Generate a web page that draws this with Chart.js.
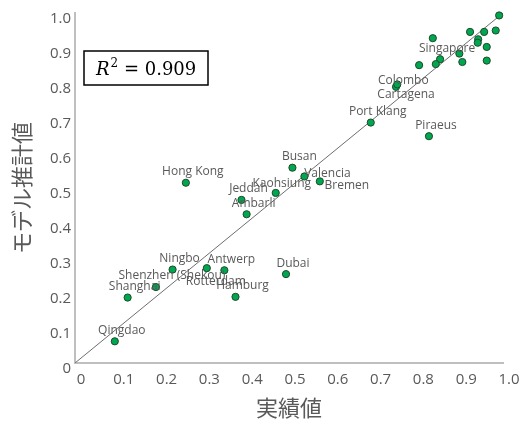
<!DOCTYPE html>
<html lang="ja">
<head>
    <meta charset="UTF-8">
    <title>実績値とモデル推計値</title>
    <script src="https://cdn.jsdelivr.net/npm/chart.js"></script>
    <style>
        html, body { margin: 0; padding: 0; background: #fff; }
        #wrap { width: 531px; height: 423px; }
    </style>
</head>
<body>
    <div id="wrap"><canvas id="fitchart"></canvas></div>
    <script>
        // port names ('' = unlabeled point)
        const ports = [
            'Qingdao', 'Shanghai', 'Shenzhen (Shekou)', 'Ningbo', 'Rotterdam', 'Antwerp', 'Hamburg',
            'Dubai', 'Ambarli', 'Jeddah', 'Kaohsiung', 'Hong Kong', 'Busan', 'Valencia', 'Bremen',
            'Port Klang', 'Piraeus', 'Cartagena', 'Colombo', 'Singapore',
            '', '', '', '', '', '', '', '', '', '', '', '', ''
        ];
        // actual values (x)
        const actual = [
            0.093, 0.123, 0.189, 0.228, 0.308, 0.349, 0.375,
            0.493, 0.401, 0.389, 0.469, 0.259, 0.508, 0.536, 0.572,
            0.691, 0.827, 0.750, 0.753, 0.853,
            0.991, 0.923, 0.956, 0.983, 0.836, 0.942, 0.941, 0.962, 0.898, 0.843, 0.804, 0.905, 0.962
        ];
        // model estimates (y)
        const estimated = [
            0.062, 0.187, 0.217, 0.267, 0.271, 0.265, 0.189,
            0.254, 0.425, 0.466, 0.486, 0.515, 0.558, 0.533, 0.519,
            0.687, 0.648, 0.789, 0.796, 0.868,
            0.993, 0.946, 0.946, 0.950, 0.928, 0.925, 0.915, 0.903, 0.884, 0.854, 0.851, 0.860, 0.864
        ];
        const diagonal = [[0, 0], [1, 1]];
        const rSquared = 0.909;

        const grey = '#595959';

        // where each label sits relative to its point (text centre)
        const labelShift = {
            'Rotterdam': [9, 13],
            'Valencia': [23, -3],
            'Bremen': [27, 4],
            'Kaohsiung': [6, -9],
            'Colombo': [6, -4],
            'Cartagena': [10, 8],
            'Shenzhen (Shekou)': [16, -11]
        };

        const pointLabels = {
            id: 'pointLabels',
            afterDatasetsDraw(chart) {
                const ctx = chart.ctx;
                const meta = chart.getDatasetMeta(0);
                ctx.save();
                ctx.font = '12px "Open Sans"';
                ctx.fillStyle = grey;
                ctx.textAlign = 'center';
                ctx.textBaseline = 'middle';
                meta.data.forEach((pt, i) => {
                    const name = ports[i];
                    if (!name) return;
                    const s = labelShift[name] || [7, -11];
                    ctx.fillText(name, pt.x + s[0], pt.y + s[1]);
                });
                ctx.restore();
            }
        };

        // R^2 box in the upper left
        const r2Box = {
            id: 'r2Box',
            afterDraw(chart) {
                const ctx = chart.ctx;
                const a = chart.chartArea;
                const x = a.left + 9, y = a.top + 38, w = 124, h = 34;
                ctx.save();
                ctx.fillStyle = '#fff';
                ctx.fillRect(x, y, w, h);
                ctx.strokeStyle = '#000';
                ctx.lineWidth = 1.5;
                ctx.strokeRect(x, y, w, h);
                ctx.fillStyle = '#000';
                ctx.textBaseline = 'alphabetic';
                let tx = x + 12;
                const by = y + 24;
                ctx.font = 'italic 18px "DejaVu Serif"';
                ctx.fillText('R', tx, by);
                tx += ctx.measureText('R').width + 1;
                ctx.font = '12px "DejaVu Serif"';
                ctx.fillText('2', tx, by - 8);
                tx += ctx.measureText('2').width;
                ctx.font = '18px "DejaVu Serif"';
                ctx.fillText(' = ' + rSquared.toFixed(3), tx, by);
                ctx.restore();
            }
        };

        const tickFmt = v => (v === 0 ? '0' : v.toFixed(1));

        new Chart(document.getElementById('fitchart'), {
            type: 'scatter',
            data: {
                datasets: [{
                    data: actual.map((v, i) => ({ x: v, y: estimated[i] })),
                    backgroundColor: '#00a650',
                    borderColor: '#1d4a2a',
                    borderWidth: 1,
                    pointRadius: 3.6,
                    order: 1,
                    clip: false
                }, {
                    type: 'line',
                    data: diagonal.map(p => ({ x: p[0], y: p[1] })),
                    borderColor: '#6e6e6e',
                    borderWidth: 1,
                    pointRadius: 0,
                    order: 2
                }]
            },
            options: {
                responsive: true,
                maintainAspectRatio: false,
                animation: false,
                layout: { padding: { left: 0, top: 12, right: 28, bottom: 0 } },
                plugins: {
                    legend: { display: false },
                    tooltip: { enabled: false }
                },
                scales: {
                    x: {
                        type: 'linear',
                        min: 0, max: 1,
                        grid: { display: false, drawTicks: false },
                        border: { display: true, color: '#bfbfbf', width: 2 },
                        ticks: {
                            stepSize: 0.1, callback: tickFmt, color: grey,
                            font: { family: 'Open Sans', size: 15 },
                            padding: 8, labelOffset: 6, maxRotation: 0
                        },
                        title: {
                            display: true, text: '実績値', color: grey,
                            font: { family: 'Noto Sans CJK JP', size: 22 },
                            padding: { top: 0, bottom: 2 }
                        },
                        afterFit(scale) { scale.height = 60; }
                    },
                    y: {
                        type: 'linear',
                        min: 0, max: 1,
                        grid: { display: false, drawTicks: false },
                        border: { display: true, color: '#bfbfbf', width: 2 },
                        ticks: {
                            stepSize: 0.1, callback: tickFmt, color: grey,
                            font: { family: 'Open Sans', size: 15 },
                            padding: 4, labelOffset: 6
                        },
                        title: {
                            display: true, text: 'モデル推計値', color: grey,
                            font: { family: 'Noto Sans CJK JP', size: 22 },
                            padding: { top: 8, bottom: 0 }
                        },
                        afterFit(scale) { scale.width = 75; }
                    }
                }
            },
            plugins: [pointLabels, r2Box]
        });
    </script>
</body>
</html>
